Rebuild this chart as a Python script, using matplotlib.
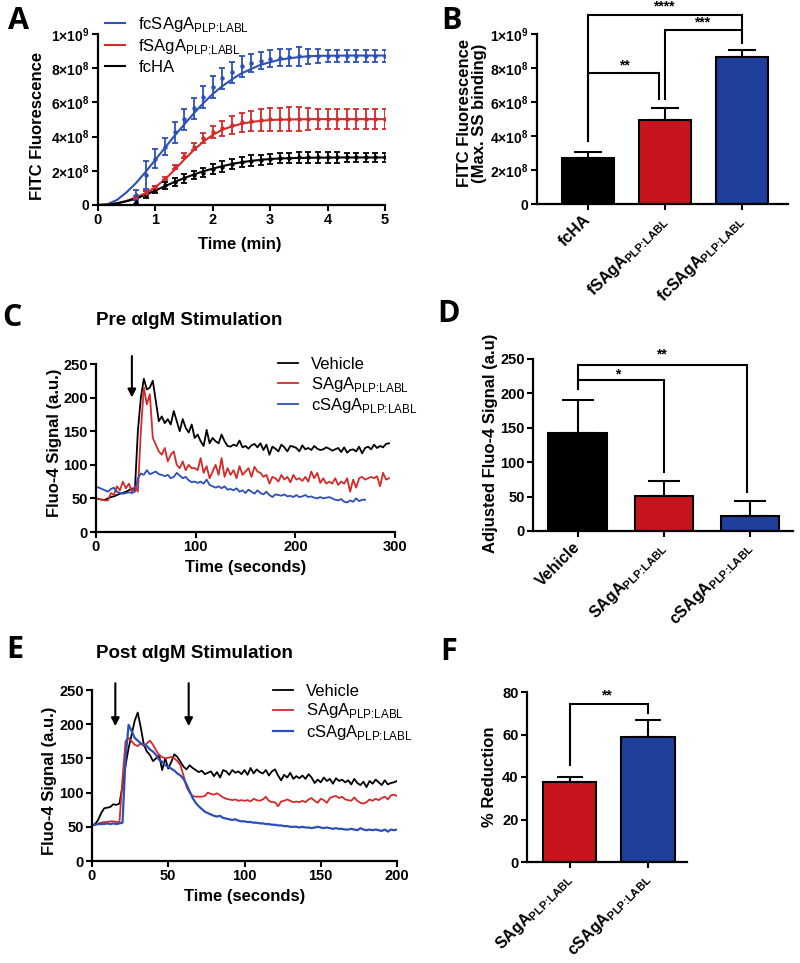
import numpy as np
import matplotlib
matplotlib.use("Agg")
import matplotlib.pyplot as plt

plt.rcParams['font.family'] = ['Liberation Sans', 'DejaVu Sans']
plt.rcParams['mathtext.fontset'] = 'custom'
plt.rcParams['mathtext.rm'] = 'Liberation Sans'

SUB = r"$_{\mathregular{PLP\hspace{-0.2}:\hspace{-0.2}LABL}}$"
RED = "#c8141c"
BLUE = "#1f3f9c"
LRED = "#d42a2a"
LBLUE = "#2d4fb8"

# ---------------- data ----------------
# A: binding kinetics (values in 1e8), fitted lines every 10 s, points from 40 s
a_line_t = np.arange(31) / 6.0
a_line_fc = [0, 0.05, 0.3, 0.75, 1.3, 1.95, 2.65, 3.35, 4.05, 4.7, 5.35, 5.95, 6.5, 6.95,
             7.35, 7.7, 7.95, 8.2, 8.35, 8.5, 8.58, 8.65, 8.7, 8.72, 8.73, 8.73, 8.74,
             8.74, 8.74, 8.74, 8.74]
a_line_f = [0, 0.02, 0.1, 0.25, 0.45, 0.7, 1.05, 1.5, 2.05, 2.65, 3.2, 3.7, 4.1, 4.4,
            4.6, 4.75, 4.85, 4.92, 4.97, 4.99, 5.0, 5.01, 5.02, 5.02, 5.02, 5.02, 5.02,
            5.02, 5.02, 5.02, 5.02]
a_line_ha = [0, 0.01, 0.1, 0.22, 0.38, 0.6, 0.85, 1.1, 1.35, 1.57, 1.78, 1.97, 2.13, 2.27,
             2.4, 2.5, 2.58, 2.64, 2.69, 2.72, 2.74, 2.75, 2.76, 2.77, 2.77, 2.78, 2.78,
             2.78, 2.78, 2.78, 2.78]
a_pt_t = np.arange(4, 31) / 6.0
a_fc = [0.6, 1.75, 2.7, 3.4, 4.25, 5.0, 5.65, 6.3, 6.9, 7.4, 7.75, 8.1, 8.3, 8.45, 8.55,
        8.6, 8.65, 8.7, 8.7, 8.72, 8.73, 8.73, 8.73, 8.73, 8.74, 8.74, 8.74]
a_fc_err = [0.3, 0.8, 0.55, 0.5, 0.6, 0.6, 0.6, 0.65, 0.65, 0.6, 0.6, 0.6, 0.55, 0.5, 0.5,
            0.5, 0.5, 0.55, 0.45, 0.4, 0.35, 0.35, 0.35, 0.35, 0.35, 0.35, 0.35]
a_f = [0.45, 0.7, 1.03, 1.56, 2.24, 2.88, 3.4, 3.9, 4.25, 4.48, 4.68, 4.83, 4.91, 4.95, 5.0,
       5.0, 5.02, 5.02, 5.02, 5.02, 5.02, 5.02, 5.02, 5.02, 5.02, 5.02, 5.02]
a_f_err = [0.1, 0.1, 0.1, 0.1, 0.12, 0.15, 0.2, 0.3, 0.35, 0.45, 0.5, 0.55, 0.6, 0.65, 0.65,
           0.7, 0.7, 0.7, 0.65, 0.6, 0.6, 0.6, 0.6, 0.6, 0.6, 0.6, 0.6]
a_ha = [0.2, 0.6, 0.9, 1.15, 1.35, 1.55, 1.75, 1.9, 2.1, 2.25, 2.4, 2.5, 2.6, 2.65, 2.7,
        2.75, 2.75, 2.78, 2.78, 2.78, 2.78, 2.78, 2.78, 2.78, 2.78, 2.78, 2.78]
a_ha_err = [0.15, 0.2, 0.2, 0.2, 0.25, 0.25, 0.25, 0.25, 0.3, 0.3, 0.3, 0.3, 0.3, 0.3, 0.3,
            0.3, 0.3, 0.3, 0.3, 0.3, 0.3, 0.3, 0.25, 0.25, 0.25, 0.25, 0.25]

# B: max binding (1e8)
b_names = ["fcHA", "fSAgA" + SUB, "fcSAgA" + SUB]
b_vals = [2.7, 4.95, 8.63]
b_err = [0.33, 0.7, 0.42]

# C: pre stimulation traces, 3 s sampling
c_vehicle = [50, 49, 48, 48, 50, 52, 53, 55, 57, 58, 60, 62, 65, 62, 150, 200, 228, 212, 215,
             225, 195, 165, 172, 162, 168, 160, 180, 165, 150, 168, 155, 148, 160, 140, 145,
             135, 128, 152, 132, 140, 135, 132, 145, 135, 128, 127, 130, 128, 136, 126, 128,
             124, 129, 131, 126, 132, 122, 130, 115, 127, 124, 120, 130, 126, 120, 128, 127,
             125, 120, 129, 123, 125, 122, 128, 124, 122, 123, 126, 124, 121, 123, 125, 119,
             126, 118, 122, 123, 120, 127, 117, 125, 127, 123, 130, 125, 128, 126, 131, 132]
c_saga = [50, 49, 48, 47, 47, 58, 55, 68, 62, 75, 65, 72, 60, 68, 60, 150, 215, 190, 205,
          140, 130, 120, 115, 125, 105, 115, 120, 100, 95, 105, 92, 100, 95, 95, 92, 110, 88,
          98, 80, 90, 100, 85, 110, 82, 95, 85, 92, 80, 98, 85, 90, 95, 82, 97, 90, 88, 82,
          85, 72, 82, 80, 75, 85, 78, 82, 74, 85, 78, 80, 76, 82, 75, 90, 80, 88, 73, 80, 72,
          75, 72, 80, 70, 75, 72, 80, 60, 78, 66, 80, 82, 78, 80, 82, 80, 83, 68, 88, 78, 80]
c_csaga = [67, 66, 64, 62, 60, 64, 66, 60, 58, 57, 58, 59, 58, 60, 80, 87, 85, 92, 86, 88,
           90, 86, 85, 83, 85, 80, 82, 88, 84, 80, 82, 77, 74, 75, 73, 75, 72, 78, 70, 68, 66,
           68, 65, 68, 63, 64, 62, 65, 60, 62, 58, 63, 60, 57, 62, 58, 56, 60, 55, 52, 56, 55,
           54, 56, 53, 54, 52, 55, 52, 53, 55, 52, 53, 51, 50, 52, 50, 51, 52, 50, 48, 47, 49,
           45, 44, 47, 45, 50, 46, 48, 48]

# D: adjusted Fluo-4
d_names = ["Vehicle", "SAgA" + SUB, "cSAgA" + SUB]
d_vals = [143, 51, 22]
d_err = [48, 22, 21]

# E: post stimulation traces, 2 s sampling
e_vehicle = [52, 54, 60, 70, 77, 78, 79, 83, 82, 84, 110, 140, 165, 185, 205, 217, 195, 170,
             160, 155, 146, 150, 155, 133, 150, 135, 145, 156, 152, 145, 138, 134, 140, 136,
             133, 130, 132, 127, 129, 131, 124, 130, 122, 133, 131, 126, 133, 129, 131, 127,
             133, 126, 136, 128, 134, 130, 128, 133, 125, 131, 134, 125, 118, 126, 122, 129,
             120, 124, 121, 125, 120, 127, 122, 114, 119, 115, 122, 117, 120, 113, 121, 117,
             119, 115, 118, 112, 120, 114, 111, 116, 108, 117, 113, 119, 115, 111, 118, 112,
             114, 115, 117]
e_saga = [52, 53, 55, 56, 57, 57, 58, 58, 57, 57, 120, 175, 180, 175, 170, 168, 172, 168,
          172, 176, 170, 162, 155, 152, 150, 151, 152, 150, 146, 140, 125, 108, 100, 95, 94,
          94, 94, 95, 100, 98, 97, 99, 96, 93, 91, 90, 89, 90, 88, 89, 88, 89, 87, 91, 89, 88,
          90, 94, 88, 86, 86, 80, 87, 88, 90, 88, 86, 87, 86, 88, 86, 90, 92, 88, 85, 91, 89,
          85, 92, 94, 95, 92, 94, 90, 89, 88, 93, 88, 85, 84, 86, 90, 88, 91, 89, 92, 94, 90,
          96, 97, 95]
e_csaga = [52, 53, 54, 54, 54, 55, 54, 55, 54, 55, 56, 150, 199, 190, 180, 176, 172, 170,
           168, 163, 160, 155, 148, 145, 140, 138, 135, 132, 128, 125, 120, 112, 102, 92, 85,
           80, 76, 72, 70, 68, 66, 65, 66, 63, 62, 61, 60, 61, 59, 58, 58, 57, 57, 56, 56, 55,
           55, 54, 54, 53, 53, 52, 52, 51, 51, 50, 50, 50, 49, 50, 49, 49, 48, 49, 50, 49, 48,
           49, 48, 47, 48, 47, 47, 46, 46, 47, 46, 45, 48, 46, 45, 46, 45, 46, 45, 44, 46, 43,
           46, 45, 46]

# F: % reduction
f_names = ["SAgA" + SUB, "cSAgA" + SUB]
f_vals = [37.8, 58.7]
f_err = [2.0, 7.9]

# ---------------- figure ----------------
W, H = 800, 963
fig = plt.figure(figsize=(W / 100, H / 100), dpi=100)


def axes_px(l, t, r, b):
    return fig.add_axes([l / W, 1 - b / H, (r - l) / W, (b - t) / H])


def style(ax):
    for s in ["top", "right"]:
        ax.spines[s].set_visible(False)
    for s in ["left", "bottom"]:
        ax.spines[s].set_linewidth(1.6)
    ax.tick_params(direction="out", length=4, width=1.5, labelsize=10.5, pad=2)
    for lab in ax.get_xticklabels() + ax.get_yticklabels():
        lab.set_fontweight("bold")


def bracket(ax, x1, x2, y, y1, y2, txt, tx, ty):
    ax.plot([x1, x1, x2, x2], [y1, y, y, y2], color="black", lw=1.5,
            clip_on=False, solid_joinstyle="miter")
    ax.text(tx, ty, txt, ha="center", va="center", fontsize=10, fontweight="bold")


def letter(x, y, s):
    fig.text(x / W, 1 - y / H, s, fontsize=22, fontweight="bold",
             family=["Open Sans", "DejaVu Sans"], ha="center", va="center")


def bar_panel(ax, names, vals, errs, colors, caps, ylim, yticks, yticklabels):
    x = np.arange(len(names))
    ax.bar(x, vals, width=0.68, color=colors, edgecolor="black", linewidth=1.5, zorder=2)
    ax.errorbar(x, vals, yerr=[np.zeros(len(vals)), errs], fmt="none", ecolor="black",
                elinewidth=1.5, capsize=caps, capthick=1.5, zorder=1)
    ax.set_ylim(*ylim)
    ax.set_yticks(yticks)
    ax.set_yticklabels(yticklabels)
    ax.set_xticks(x)
    ax.set_xticklabels(names, rotation=45, ha="right", va="center",
                       rotation_mode="anchor", fontsize=11.5)
    style(ax)
    ax.tick_params(axis="x", pad=6, labelsize=11.5)


exp_ticks = [0, 2, 4, 6, 8, 10]
exp_labels = ["0", r"2×10$^{\mathregular{8}}$", r"4×10$^{\mathregular{8}}$",
              r"6×10$^{\mathregular{8}}$", r"8×10$^{\mathregular{8}}$", r"1×10$^{\mathregular{9}}$"]

# ---- A ----
axA = axes_px(98, 34, 385, 205)
axA.plot(a_line_t, a_line_fc, color=LBLUE, lw=1.5, label="fcSAgA" + SUB)
axA.plot(a_line_t, a_line_f, color=LRED, lw=1.5, label="fSAgA" + SUB)
axA.plot(a_line_t, a_line_ha, color="black", lw=1.5, label="fcHA")
for y, e, c in [(a_ha, a_ha_err, "black"), (a_f, a_f_err, LRED), (a_fc, a_fc_err, LBLUE)]:
    axA.errorbar(a_pt_t, y, yerr=e, fmt="o", ms=2.2, color=c, ecolor=c, elinewidth=1.3,
                 capsize=2, capthick=1.3)
axA.set_xlim(0, 5)
axA.set_ylim(0, 10)
axA.set_xticks(range(6))
axA.set_yticks(exp_ticks)
axA.set_yticklabels(exp_labels)
style(axA)
axA.tick_params(axis="y", labelsize=10)
axA.set_xlabel("Time (min)", fontsize=12, fontweight="bold")
axA.xaxis.set_label_coords(0.495, -0.19)
axA.set_ylabel("FITC Fluorescence", fontsize=12, fontweight="bold")
axA.yaxis.set_label_coords(-0.185, 0.46)
axA.legend(loc="upper left", bbox_to_anchor=(105 / W, 1 - 15 / H), bbox_transform=fig.transFigure,
           frameon=False, fontsize=12, handlelength=1.2, handletextpad=0.8,
           labelspacing=0.2, borderpad=0, borderaxespad=0)

# ---- B ----
axB = axes_px(537, 34, 788, 204)
bar_panel(axB, b_names, b_vals, b_err, ["black", RED, BLUE], 10, (0, 10), exp_ticks, exp_labels)
axB.tick_params(axis="y", labelsize=10)
axB.set_xlim(-0.66, 2.6)
axB.set_ylabel("FITC Fluorescence\n(Max. SS binding)", fontsize=12, fontweight="bold",
               linespacing=1.0)
axB.yaxis.set_label_coords(-0.2, 0.535)
bracket(axB, 0, 0.93, 7.7, 3.7, 6.2, "**", 0.47, 8.15)
bracket(axB, 1.0, 2.0, 10.25, 6.2, 9.45, "***", 1.48, 10.7)
bracket(axB, 0, 2.0, 11.1, 3.7, 10.25, "****", 0.98, 11.6)

# ---- C ----
axC = axes_px(96, 364, 395, 532)
axC.plot(3 * np.arange(len(c_vehicle)), c_vehicle, color="black", lw=1.3, label="Vehicle")
axC.plot(3 * np.arange(len(c_saga)), c_saga, color=LRED, lw=1.3, label="SAgA" + SUB)
axC.plot(3 * np.arange(len(c_csaga)), c_csaga, color=LBLUE, lw=1.3, label="cSAgA" + SUB)
axC.set_xlim(0, 300)
axC.set_ylim(0, 250)
axC.set_xticks([0, 100, 200, 300])
axC.set_yticks([0, 50, 100, 150, 200, 250])
style(axC)
axC.set_xlabel("Time (seconds)", fontsize=12, fontweight="bold")
axC.xaxis.set_label_coords(0.5, -0.165)
axC.set_ylabel("Fluo-4 Signal (a.u.)", fontsize=12, fontweight="bold")
axC.yaxis.set_label_coords(-0.115, 0.53)
axC.annotate("", xy=(36, 196), xytext=(36, 266), annotation_clip=False,
             arrowprops=dict(arrowstyle="-|>", color="black", lw=1.5, mutation_scale=12))
axC.legend(loc="upper left", bbox_to_anchor=(278 / W, 1 - 357 / H), bbox_transform=fig.transFigure,
           frameon=False, fontsize=12, handlelength=1.2, handletextpad=0.8,
           labelspacing=0.15, borderpad=0, borderaxespad=0)
axC.set_title("Pre αIgM Stimulation", fontsize=13.5, fontweight="bold", x=0.31, y=1.18)

# ---- D ----
axD = axes_px(533, 359, 793, 531)
bar_panel(axD, d_names, d_vals, d_err, ["black", RED, BLUE], 11.5, (0, 250),
          [0, 50, 100, 150, 200, 250], ["0", "50", "100", "150", "200", "250"])
axD.set_xlim(-0.52, 2.5)
axD.set_ylabel("Adjusted Fluo-4 Signal (a.u)", fontsize=12, fontweight="bold")
axD.yaxis.set_label_coords(-0.135, 0.51)
bracket(axD, 0, 1, 219, 206, 86, "*", 0.46, 227)
bracket(axD, 0, 1.97, 241, 206, 56, "**", 0.97, 257)

# ---- E ----
axE = axes_px(92, 690, 397, 861)
axE.plot(2 * np.arange(len(e_vehicle)), e_vehicle, color="black", lw=1.3, label="Vehicle")
axE.plot(2 * np.arange(len(e_saga)), e_saga, color=LRED, lw=1.3, label="SAgA" + SUB)
axE.plot(2 * np.arange(len(e_csaga)), e_csaga, color=LBLUE, lw=1.6, label="cSAgA" + SUB)
axE.set_xlim(0, 200)
axE.set_ylim(0, 250)
axE.set_xticks([0, 50, 100, 150, 200])
axE.set_yticks([0, 50, 100, 150, 200, 250])
style(axE)
axE.set_xlabel("Time (seconds)", fontsize=12, fontweight="bold")
axE.xaxis.set_label_coords(0.5, -0.165)
axE.set_ylabel("Fluo-4 Signal (a.u.)", fontsize=12, fontweight="bold")
axE.yaxis.set_label_coords(-0.115, 0.47)
for xa in [15.3, 63.4]:
    axE.annotate("", xy=(xa, 193), xytext=(xa, 264), annotation_clip=False,
                 arrowprops=dict(arrowstyle="-|>", color="black", lw=1.5, mutation_scale=12))
axE.legend(loc="upper left", bbox_to_anchor=(273 / W, 1 - 684 / H), bbox_transform=fig.transFigure,
           frameon=False, fontsize=12, handlelength=1.2, handletextpad=0.8,
           labelspacing=0.15, borderpad=0, borderaxespad=0)
axE.set_title("Post αIgM Stimulation", fontsize=13.5, fontweight="bold", x=0.335, y=1.14)

# ---- F ----
axF = axes_px(527, 692, 687, 862)
bar_panel(axF, f_names, f_vals, f_err, [RED, BLUE], 9.5, (0, 80),
          [0, 20, 40, 60, 80], ["0", "20", "40", "60", "80"])
axF.set_xlim(-0.55, 1.5)
axF.set_ylabel("% Reduction", fontsize=12, fontweight="bold")
axF.yaxis.set_label_coords(-0.19, 0.5)
bracket(axF, 0, 1, 74.5, 45.7, 70, "**", 0.47, 78.5)

# panel letters
letter(19, 21, "A")
letter(452, 21, "B")
letter(12, 318, "C")
letter(449, 314, "D")
letter(15, 650, "E")
letter(449, 652, "F")

fig.savefig("out.png", dpi=100)
